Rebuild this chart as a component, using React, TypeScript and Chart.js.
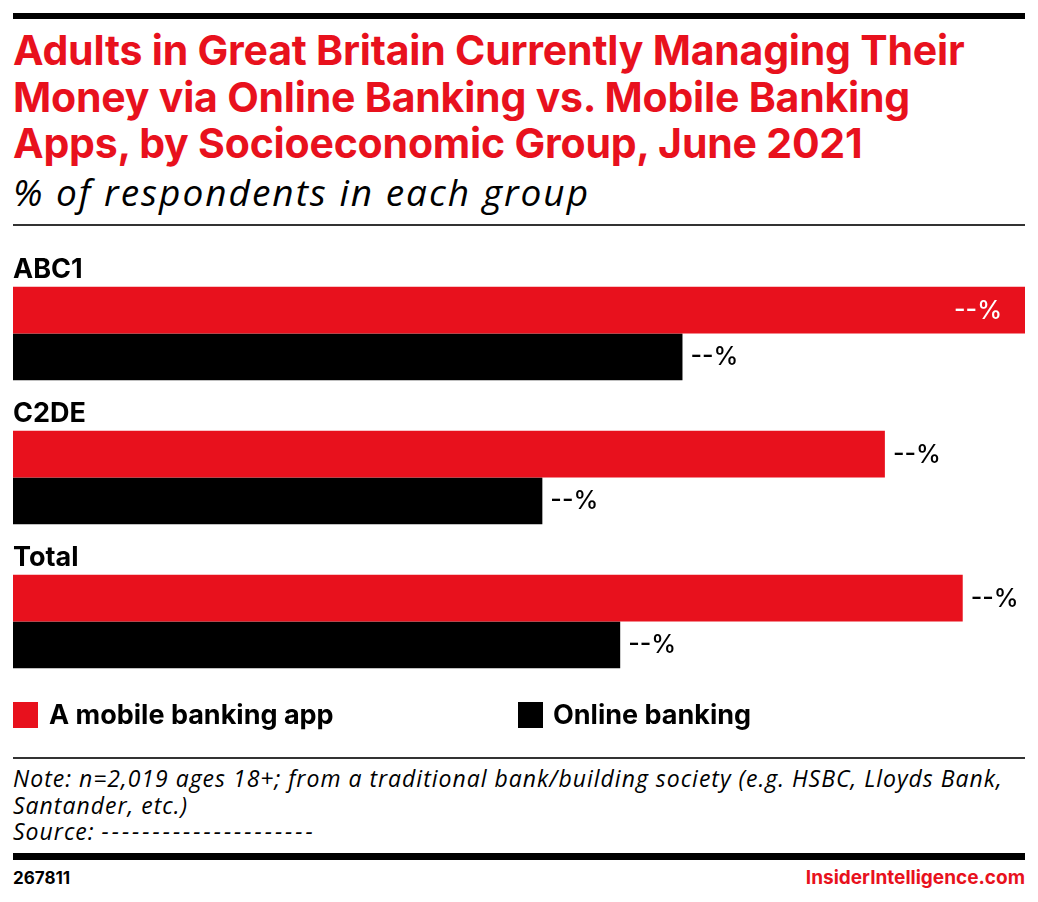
import React, { useEffect, useRef } from "react";
import { Chart, registerables } from "chart.js";

Chart.register(...registerables);

const categories = ["ABC1", "C2DE", "Total"];
const mobileApp = [65, 56, 61];
const onlineBanking = [43, 34, 39];
const valueLabels = ["--%", "--%", "--%"];
const seriesNames = ["A mobile banking app", "Online banking"];

const RED = "#e8111d";
const BOLD = "Inter, 'Noto Sans', sans-serif";
const ITAL = "'Open Sans', Lato, sans-serif";

export default function App() {
  const ref = useRef<HTMLCanvasElement | null>(null);

  useEffect(() => {
    document.body.style.margin = "0";
    const maxVal = Math.max(...mobileApp, ...onlineBanking);
    const labelPlugin = {
      id: "customLabels",
      afterDatasetsDraw(chart: any) {
        const ctx = chart.ctx;
        ctx.save();
        const meta0 = chart.getDatasetMeta(0);
        ctx.font = `700 27px ${BOLD}`;
        ctx.fillStyle = "#000";
        ctx.textAlign = "left";
        ctx.textBaseline = "alphabetic";
        meta0.data.forEach((bar: any, i: number) => {
          const top = bar.y - bar.height / 2;
          ctx.fillText(categories[i], chart.chartArea.left, top - 9);
        });
        ctx.font = `500 25px ${BOLD}`;
        ctx.textBaseline = "middle";
        chart.data.datasets.forEach((ds: any, di: number) => {
          const meta = chart.getDatasetMeta(di);
          meta.data.forEach((bar: any, i: number) => {
            const v = ds.data[i];
            const txt = valueLabels[i];
            if (v === maxVal) {
              ctx.fillStyle = "#fff";
              ctx.textAlign = "right";
              ctx.fillText(txt, bar.x - 23, bar.y + 1);
            } else {
              ctx.fillStyle = "#000";
              ctx.textAlign = "left";
              ctx.fillText(txt, bar.x + 8, bar.y + 1);
            }
          });
        });
        ctx.restore();
      },
    };

    const chart = new Chart(ref.current as HTMLCanvasElement, {
      type: "bar",
      data: {
        labels: categories,
        datasets: [
          { label: seriesNames[0], data: mobileApp, backgroundColor: RED, borderWidth: 0 },
          { label: seriesNames[1], data: onlineBanking, backgroundColor: "#000", borderWidth: 0 },
        ],
      },
      options: {
        indexAxis: "y",
        animation: false,
        responsive: false,
        maintainAspectRatio: false,
        layout: { padding: { left: 13, right: 13, top: 21.5, bottom: 6.5 } },
        datasets: { bar: { categoryPercentage: 0.648, barPercentage: 1 } },
        scales: {
          x: { display: false, min: 0, max: maxVal },
          y: { display: false },
        },
        plugins: { legend: { display: false }, tooltip: { enabled: false } },
      },
      plugins: [labelPlugin],
    });
    return () => chart.destroy();
  }, []);

  const abs = (s: React.CSSProperties): React.CSSProperties => ({ position: "absolute", ...s });

  return (
    <div style={{ position: "relative", width: 1038, height: 902, background: "#fff", overflow: "hidden" }}>
      <div style={abs({ left: 13, top: 13, width: 1012, height: 6, background: "#000" })} />
      <div
        style={abs({
          left: 13,
          top: 27,
          fontFamily: BOLD,
          fontWeight: 700,
          fontSize: 41,
          lineHeight: "46.5px",
          color: RED,
          whiteSpace: "nowrap",
          letterSpacing: "-0.2px",
        })}
      >
        Adults in Great Britain Currently Managing Their
        <br />
        Money via Online Banking vs. Mobile Banking
        <br />
        Apps, by Socioeconomic Group, June 2021
      </div>
      <div
        style={abs({
          left: 13,
          top: 170,
          fontFamily: ITAL,
          fontStyle: "italic",
          fontSize: 37,
          lineHeight: "44px",
          letterSpacing: "2px",
          color: "#000",
          whiteSpace: "nowrap",
        })}
      >
        % of respondents in each group
      </div>
      <div style={abs({ left: 13, top: 224, width: 1012, height: 1.5, background: "#333" })} />

      <canvas ref={ref} width={1038} height={460} style={abs({ left: 0, top: 240, width: 1038, height: 460 })} />

      <div style={abs({ left: 13, top: 702, width: 25, height: 26, background: RED })} />
      <div
        style={abs({ left: 49, top: 698, fontFamily: BOLD, fontWeight: 700, fontSize: 27, lineHeight: "34px", whiteSpace: "nowrap" })}
      >
        {seriesNames[0]}
      </div>
      <div style={abs({ left: 518, top: 702, width: 25, height: 26, background: "#000" })} />
      <div
        style={abs({ left: 553, top: 698, fontFamily: BOLD, fontWeight: 700, fontSize: 27, lineHeight: "34px", whiteSpace: "nowrap" })}
      >
        {seriesNames[1]}
      </div>

      <div style={abs({ left: 13, top: 757, width: 1012, height: 1.5, background: "#333" })} />
      <div
        style={abs({
          left: 13,
          top: 765,
          fontFamily: ITAL,
          fontStyle: "italic",
          fontSize: 23,
          lineHeight: "26.5px",
          letterSpacing: "1px",
          color: "#000",
          whiteSpace: "nowrap",
        })}
      >
        Note: n=2,019 ages 18+; from a traditional bank/building society (e.g. HSBC, Lloyds Bank,
        <br />
        Santander, etc.)
        <br />
        Source: <span style={{ letterSpacing: "3px" }}>---------------------</span>
      </div>
      <div style={abs({ left: 13, top: 853, width: 1012, height: 7, background: "#000" })} />
      <div style={abs({ left: 13, top: 867, fontFamily: BOLD, fontWeight: 700, fontSize: 17, lineHeight: "22px" })}>267811</div>
      <div
        style={abs({
          right: 13,
          top: 866,
          fontFamily: BOLD,
          fontWeight: 700,
          fontSize: 19,
          lineHeight: "24px",
          color: RED,
          whiteSpace: "nowrap",
        })}
      >
        InsiderIntelligence.com
      </div>
    </div>
  );
}
